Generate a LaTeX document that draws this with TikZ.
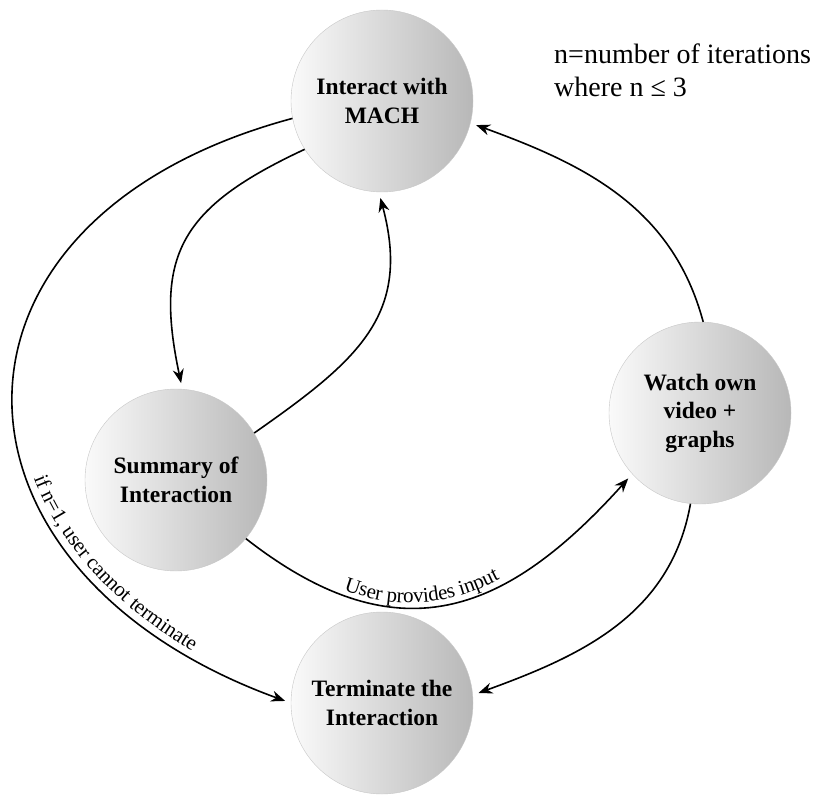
\documentclass[tikz,border=0pt]{standalone}
\usepackage{fontspec}
\setmainfont{Liberation Serif}
\usetikzlibrary{positioning,arrows.meta,decorations.text}

\begin{document}
\begin{tikzpicture}[
	x=1pt, y=-1pt,
	on grid,
	>={Stealth[length=14pt,width=11pt]},
	stagenode/.style={circle, draw=black!22, left color=black!2, right color=black!28, minimum size=182pt, inner sep=0pt, align=center, font=\fontsize{23.5}{28.5}\selectfont\bfseries},
	flow/.style={->, line width=1.6pt, shorten >=6pt},
	notetext/.style={align=left, inner sep=0pt, font=\fontsize{28}{33}\selectfont},
	]
	\useasboundingbox (0,0) rectangle (818,794);
	
	%Nodes
	\node[stagenode] (Interact) at (382,101) {Interact with\\MACH};
	\node[stagenode] (Summary) [below left=379pt and 206pt of Interact] {Summary of\\Interaction};
	\node[stagenode] (Watch) [below right=312pt and 318pt of Interact] {Watch own\\video +\\graphs};
	\node[stagenode] (Terminate) [below=602pt of Interact] {Terminate the\\Interaction};
	\node[notetext, anchor=north west] (Note) at (554,44) {n=number of iterations\\where n ≤ 3};
	
	%Lines
	\draw[flow] (Interact.212) to[out=205, in=102, looseness=1.3] (Summary.86);
	\draw[flow] (Summary.31) to[out=35, in=-75, looseness=1.2] (Interact.268);
	\draw[flow] (Watch.88) to[out=105, in=-20] (Interact.346);
	\draw[flow] (Watch.264) to[out=-100, in=20] (Terminate.5);
	\draw[flow, postaction={decorate}, decoration={text along path, raise=5pt, text align={left, left indent=112pt},
		text={|\fontsize{21}{24}\selectfont|User provides input}}]
		(Summary.-40) to[out=-38, in=228, looseness=1.25] (Watch.222);
	\draw[flow, postaction={decorate}, decoration={text along path, raise=5pt, text align={right, right indent=112pt},
		text={|\fontsize{21}{24}\selectfont|if n=1, user cannot terminate}}]
		(Interact.191) to[out=195, in=160, looseness=1.7] (Terminate.180);
	
\end{tikzpicture}
\end{document}
